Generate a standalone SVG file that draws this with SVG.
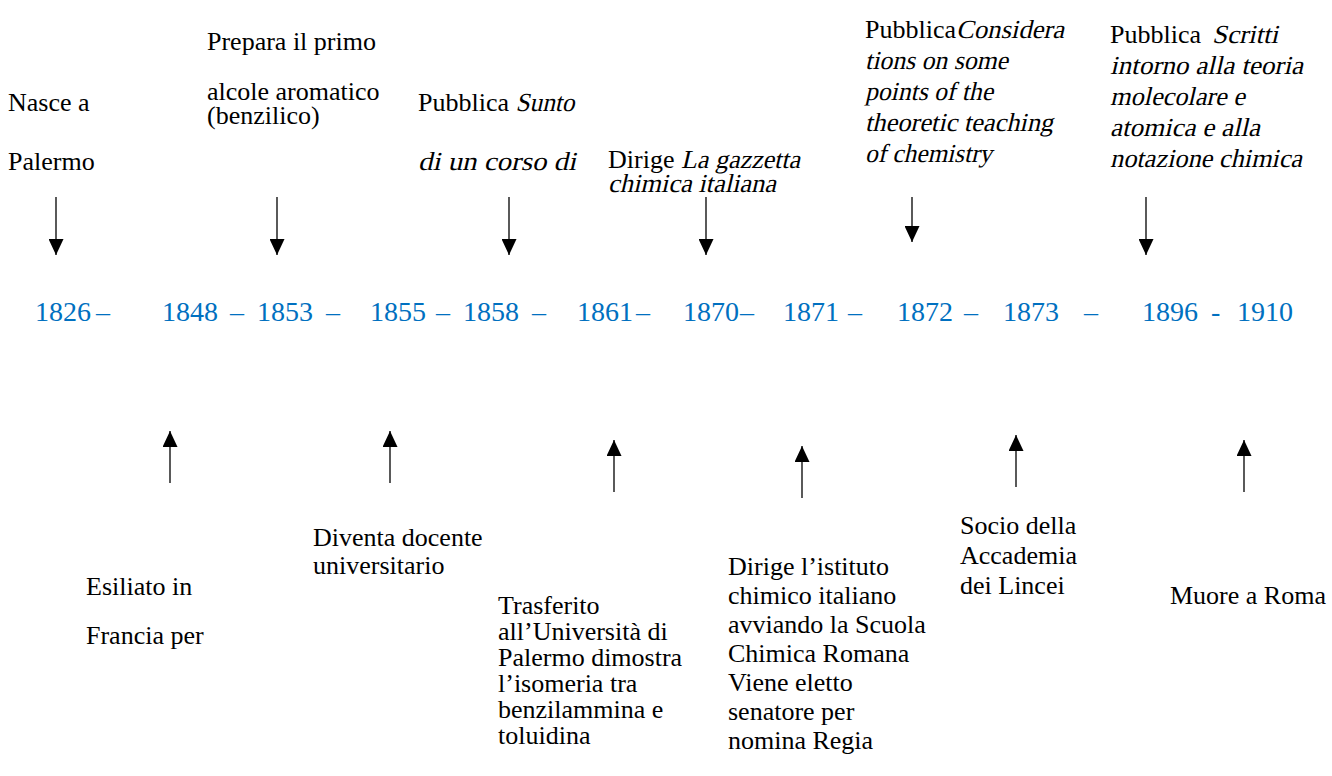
<svg xmlns="http://www.w3.org/2000/svg" width="1332" height="776" viewBox="0 0 1332 776">
<style>
.t{font-family:"Liberation Serif","Times New Roman",serif;font-size:26px;fill:#000}
.y{font-family:"Liberation Serif","Times New Roman",serif;font-size:28px;fill:#0070C0}
.a{stroke:#000;stroke-width:1.3;fill:none;marker-end:url(#ah)}
</style>
<defs>
<marker id="ah" markerUnits="userSpaceOnUse" markerWidth="17" markerHeight="15" refX="16" refY="7.5" orient="auto" viewBox="0 0 17 15">
<path d="M0,0 L16,7.5 L0,15 z" fill="#000"/>
</marker>
</defs>
<rect width="1332" height="776" fill="#fff"/>
<g id="years">
<text class="y" x="35" y="321">1826</text><text class="y" x="96" y="321">–</text>
<text class="y" x="162" y="321">1848</text><text class="y" x="230" y="321">–</text>
<text class="y" x="257" y="321">1853</text><text class="y" x="326" y="321">–</text>
<text class="y" x="370" y="321">1855</text><text class="y" x="436" y="321">–</text>
<text class="y" x="463" y="321">1858</text><text class="y" x="532" y="321">–</text>
<text class="y" x="577" y="321">1861</text><text class="y" x="636" y="321">–</text>
<text class="y" x="683" y="321">1870</text><text class="y" x="740" y="321">–</text>
<text class="y" x="783" y="321">1871</text><text class="y" x="848" y="321">–</text>
<text class="y" x="897" y="321">1872</text><text class="y" x="964" y="321">–</text>
<text class="y" x="1003" y="321">1873</text><text class="y" x="1084" y="321">–</text>
<text class="y" x="1142" y="321">1896</text><text class="y" x="1211" y="321">-</text>
<text class="y" x="1237" y="321">1910</text>
</g>
<g id="connectors">
<line class="a" x1="56" y1="197" x2="56" y2="255"/>
<line class="a" x1="277" y1="197" x2="277" y2="255"/>
<line class="a" x1="509" y1="197" x2="509" y2="255"/>
<line class="a" x1="706" y1="197" x2="706" y2="255"/>
<line class="a" x1="912" y1="197" x2="912" y2="242"/>
<line class="a" x1="1146" y1="197" x2="1146" y2="255"/>
<line class="a" x1="170" y1="483" x2="170" y2="431"/>
<line class="a" x1="390" y1="483" x2="390" y2="431"/>
<line class="a" x1="614" y1="492" x2="614" y2="440"/>
<line class="a" x1="802" y1="498" x2="802" y2="446"/>
<line class="a" x1="1016" y1="487" x2="1016" y2="435"/>
<line class="a" x1="1244" y1="492" x2="1244" y2="440"/>
</g>
<g id="e1826"><text class="t" x="8" y="111">Nasce a</text><text class="t" x="8" y="170">Palermo</text></g>
<g id="e1853"><text class="t" x="207" y="50">Prepara il primo</text><text class="t" x="207" y="100">alcole aromatico</text><text class="t" x="207" y="124">(benzilico)</text></g>
<g id="e1858">
<text class="t" x="418" y="111">Pubblica</text>
<text class="t" transform="translate(515.5 111) skewX(-13)" textLength="59" lengthAdjust="spacingAndGlyphs">Sunto</text>
<text class="t" transform="translate(418 170) skewX(-13)" textLength="158" lengthAdjust="spacingAndGlyphs">di un corso di</text>
</g>
<g id="e1870">
<text class="t" x="608" y="168">Dirige</text>
<text class="t" transform="translate(681 168) skewX(-13)" textLength="119" lengthAdjust="spacingAndGlyphs">La gazzetta</text>
<text class="t" transform="translate(608 192) skewX(-13)" textLength="168" lengthAdjust="spacingAndGlyphs">chimica italiana</text>
</g>
<g id="e1872">
<text class="t" x="865" y="38">Pubblica</text>
<text class="t" transform="translate(956 38) skewX(-13)" textLength="108" lengthAdjust="spacingAndGlyphs">Considera</text>
<text class="t" transform="translate(865 69) skewX(-13)" textLength="143" lengthAdjust="spacingAndGlyphs">tions on some</text>
<text class="t" transform="translate(865 100) skewX(-13)" textLength="128" lengthAdjust="spacingAndGlyphs">points of the</text>
<text class="t" transform="translate(865 131) skewX(-13)" textLength="188" lengthAdjust="spacingAndGlyphs">theoretic teaching</text>
<text class="t" transform="translate(865 162) skewX(-13)" textLength="127" lengthAdjust="spacingAndGlyphs">of chemistry</text>
</g>
<g id="e1896">
<text class="t" x="1110" y="43">Pubblica</text>
<text class="t" transform="translate(1212 43) skewX(-13)" textLength="66" lengthAdjust="spacingAndGlyphs">Scritti</text>
<text class="t" transform="translate(1110 74) skewX(-13)" textLength="193" lengthAdjust="spacingAndGlyphs">intorno alla teoria</text>
<text class="t" transform="translate(1110 105) skewX(-13)" textLength="135" lengthAdjust="spacingAndGlyphs">molecolare e</text>
<text class="t" transform="translate(1110 136) skewX(-13)" textLength="150" lengthAdjust="spacingAndGlyphs">atomica e alla</text>
<text class="t" transform="translate(1110 167) skewX(-13)" textLength="192" lengthAdjust="spacingAndGlyphs">notazione chimica</text>
</g>
<g id="e1848"><text class="t" x="86" y="595">Esiliato in</text><text class="t" x="86" y="644">Francia per</text></g>
<g id="e1855"><text class="t" x="313" y="546">Diventa docente</text><text class="t" x="313" y="574">universitario</text></g>
<g id="e1861"><text class="t" x="498" y="614">Trasferito</text><text class="t" x="498" y="640">all’Università di</text><text class="t" x="498" y="666">Palermo dimostra</text><text class="t" x="498" y="692">l’isomeria tra</text><text class="t" x="498" y="718">benzilammina e</text><text class="t" x="498" y="744">toluidina</text></g>
<g id="e1871"><text class="t" x="728" y="575">Dirige l’istituto</text><text class="t" x="728" y="604">chimico italiano</text><text class="t" x="728" y="633">avviando la Scuola</text><text class="t" x="728" y="662">Chimica Romana</text><text class="t" x="728" y="691">Viene eletto</text><text class="t" x="728" y="720">senatore per</text><text class="t" x="728" y="749">nomina Regia</text></g>
<g id="e1873"><text class="t" x="960" y="534">Socio della</text><text class="t" x="960" y="564">Accademia</text><text class="t" x="960" y="594">dei Lincei</text></g>
<g id="e1910"><text class="t" x="1170" y="604">Muore a Roma</text></g>
</svg>
